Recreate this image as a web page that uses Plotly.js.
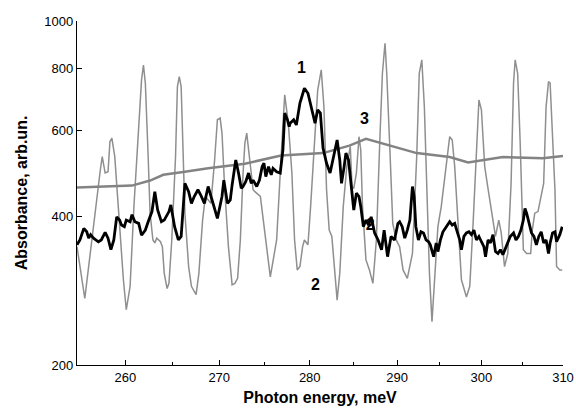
<!DOCTYPE html>
<html>
<head>
<meta charset="utf-8">
<script src="https://cdn.plot.ly/plotly-3.0.1.min.js"></script>
<style>html,body{margin:0;padding:0;background:#fff;}#chart{width:576px;height:413px;}</style>
</head>
<body>
<div id="chart"></div>
<script>
// Curve 1 (black): photon energy (meV) and absorbance
const x1 = [255.0,255.3,255.7,256.0,256.2,256.4,256.7,256.9,257.2,257.5,257.9,258.2,258.5,258.8,259.1,259.4,259.6,259.9,260.1,260.5,260.7,261.0,261.4,261.7,262.1,262.4,262.8,263.1,263.4,263.8,264.1,264.6,264.8,265.2,265.6,265.9,266.3,266.7,267.0,267.3,267.7,268.0,268.4,268.8,269.2,269.5,269.8,270.3,270.5,270.9,271.2,271.4,271.8,272.1,272.4,272.6,272.9,273.2,273.5,273.7,274.1,274.4,274.7,274.9,275.1,275.4,275.7,275.9,276.3,276.7,277.0,277.2,277.5,277.7,277.8,278.2,278.5,278.9,279.4,279.8,280.2,280.6,280.9,281.2,281.5,281.9,282.3,282.6,282.9,283.1,283.4,283.6,283.9,284.1,284.4,284.7,285.0,285.3,285.6,285.8,286.1,286.4,286.7,287.0,287.4,287.8,288.2,288.5,288.9,289.3,289.7,290.1,290.3,290.6,290.9,291.2,291.5,291.8,292.0,292.2,292.5,292.8,293.1,293.4,293.7,293.9,294.3,294.6,294.8,295.1,295.4,295.8,296.2,296.5,296.8,297.1,297.4,297.6,297.9,298.2,298.5,298.8,299.1,299.4,299.7,300.0,300.3,300.5,300.8,301.1,301.4,301.7,302.0,302.3,302.6,303.0,303.2,303.5,303.9,304.2,304.5,304.8,305.1,305.3,305.5,305.8,306.1,306.4,306.7,307.0,307.3,307.6,307.9,308.2,308.4,308.7,309.0,309.2,309.6,309.9];
const y1 = [351,359,379,373,362,368,362,359,356,359,372,362,343,359,400,394,385,382,394,391,404,391,388,367,376,391,410,450,413,391,394,410,423,382,359,365,468,450,426,440,454,443,426,461,436,416,397,440,475,426,433,464,522,491,457,461,472,491,468,475,461,475,506,514,483,506,487,502,494,491,547,650,630,610,620,630,615,681,730,713,660,620,660,650,552,514,491,522,552,573,522,468,506,539,522,461,413,447,440,420,382,394,385,400,371,359,343,376,332,365,359,388,391,382,362,376,394,461,440,382,359,373,371,359,356,351,332,354,340,359,373,382,391,385,388,373,359,343,365,371,373,368,376,359,365,356,348,332,359,354,368,340,337,343,335,348,354,365,371,359,365,376,394,416,407,391,371,365,351,365,373,354,359,337,354,371,373,356,368,382];

// Curve 2 (thin grey, oscillating)
const x2 = [255.0,255.8,257.4,257.6,257.9,258.2,258.4,258.6,258.9,259.1,259.4,259.8,260.1,260.5,260.9,261.4,261.7,261.9,262.1,262.4,262.6,262.9,263.1,263.3,263.7,263.9,264.1,264.4,264.6,264.9,265.3,265.5,265.7,265.9,266.1,266.3,266.7,267.0,267.5,267.8,268.2,268.5,268.8,269.1,269.5,269.8,270.1,270.3,270.6,271.0,271.4,271.7,272.0,272.3,272.6,272.8,273.0,273.3,273.7,273.9,274.5,275.6,276.3,276.8,277.2,277.6,278.0,278.3,278.6,278.9,279.2,279.4,279.8,280.1,280.6,280.9,281.3,281.6,281.9,282.2,282.5,282.8,283.1,283.4,283.8,284.2,284.6,284.8,285.0,285.3,285.6,285.8,286.0,286.4,286.8,287.2,287.6,288.0,288.3,288.6,288.8,289.2,289.5,289.9,290.3,290.7,291.2,291.8,292.3,292.6,292.9,293.2,293.5,293.8,294.1,294.5,294.8,295.2,295.8,296.2,296.5,296.8,297.2,297.6,298.2,298.6,299.0,299.5,299.7,300.0,300.4,300.7,301.0,301.4,301.7,302.1,302.4,302.8,303.2,303.6,303.9,304.1,304.4,304.7,305.1,305.5,306.0,306.2,306.5,306.9,307.3,307.6,307.9,308.2,308.4,308.7,309.0,309.2,309.6,309.9];
const y2 = [348,273,498,530,491,494,569,578,530,461,382,298,259,289,420,620,759,814,748,530,407,359,354,362,356,348,307,286,293,359,530,736,771,736,573,407,317,289,278,307,394,440,433,426,522,630,635,592,454,348,291,293,300,359,491,565,592,530,454,450,440,302,359,530,708,620,491,359,312,317,348,359,351,420,573,724,796,670,454,376,365,307,271,307,420,506,556,461,457,491,582,547,420,327,312,293,359,573,783,901,783,530,388,359,348,312,300,337,530,783,834,670,454,307,245,307,382,420,506,582,573,506,388,298,275,289,388,620,691,660,506,468,433,388,365,394,371,317,337,468,748,834,783,573,343,337,337,376,407,410,447,468,670,753,748,592,454,317,312,312];

// Curve 3 (thick grey, smooth)
const x3 = [255.0,260.7,262.6,264.0,266.3,268.8,272.8,276.8,281.5,284.5,286.4,290.3,292.3,296.2,298.4,302.6,307.5,310.0];
const y3 = [459,463,474,487,494,502,513,533,539,558,576,551,539,529,516,529,526,532];

const xTicks = [260,270,280,290,300,310];
const xMinor = [265,275,285,295,305];
const yTicks = [200,400,600,800,1000];

// curve labels
const labelText = ['1','3','2'];
const labelX = [279.1,286.2,280.7];
const labelY = [803,635,292];
const hiddenLabel = {text:'2', x:286.9, y:383};

const FONT = 'Liberation Sans, Arial, sans-serif';
const lg = Math.log10;

const traces = [
  {x:[hiddenLabel.x], y:[hiddenLabel.y], mode:'text', text:['<b>'+hiddenLabel.text+'</b>'],
   textfont:{family:FONT,size:16,color:'#000'}, hoverinfo:'skip', showlegend:false},
  {x:x2, y:y2, mode:'lines', line:{color:'#8f8f8f', width:1.5}, showlegend:false},
  {x:x3, y:y3, mode:'lines', line:{color:'#838383', width:2.5}, showlegend:false},
  {x:x1, y:y1, mode:'lines', line:{color:'#000000', width:2.8}, showlegend:false}
];

const layout = {
  width:576, height:413,
  margin:{l:77, r:13, t:21, b:48, pad:0},
  paper_bgcolor:'#fff', plot_bgcolor:'#fff',
  font:{family:FONT, size:13, color:'#000'},
  showlegend:false,
  xaxis:{
    type:'log', range:[lg(255), lg(310)], autorange:false,
    tickmode:'array', tickvals:xTicks, ticktext:xTicks.map(String),
    ticks:'inside', ticklen:5, tickwidth:1, tickcolor:'#000',
    minor:{tickmode:'array', tickvals:xMinor, ticks:'inside', ticklen:3, tickwidth:1, tickcolor:'#000', showgrid:false},
    showline:true, linecolor:'#000', linewidth:1.2, showgrid:false, zeroline:false,
    tickfont:{family:FONT, size:13}, automargin:false,
    title:{text:'<b>Photon energy, meV</b>', font:{family:FONT, size:16}, standoff:8}
  },
  yaxis:{
    type:'log', range:[lg(200), lg(1000)], autorange:false,
    tickmode:'array', tickvals:yTicks, ticktext:yTicks.map(String),
    ticks:'inside', ticklen:5, tickwidth:1, tickcolor:'#000',
    showline:true, linecolor:'#000', linewidth:1.2, showgrid:false, zeroline:false,
    tickfont:{family:FONT, size:13}, automargin:false,
    title:{text:'<b>Absorbance, arb.un.</b>', font:{family:FONT, size:16}, standoff:12}
  },
  annotations: labelText.map((t,i)=>({
    x:lg(labelX[i]), y:lg(labelY[i]), xref:'x', yref:'y', text:'<b>'+t+'</b>',
    showarrow:false, font:{family:FONT, size:16, color:'#000'}
  }))
};

Plotly.newPlot('chart', traces, layout, {staticPlot:true, displayModeBar:false});
</script>
</body>
</html>
